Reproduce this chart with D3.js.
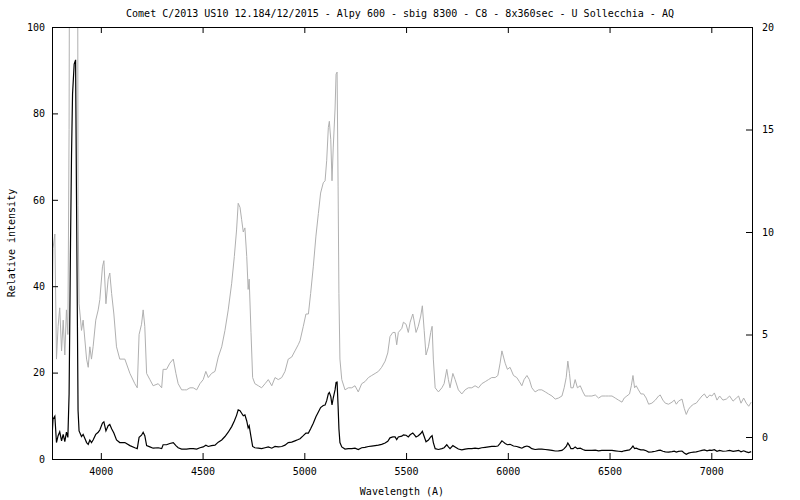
<!DOCTYPE html>
<html><head><meta charset="utf-8">
<script src="https://cdn.jsdelivr.net/npm/d3@7"></script>
<style>
body{margin:0;background:#fff;}
text{font-family:"DejaVu Sans Mono",monospace;font-size:10px;fill:#000;}
</style></head>
<body>
<svg id="chart" width="800" height="500"></svg>
<script>
const title = "Comet C/2013 US10 12.184/12/2015 - Alpy 600 - sbig 8300 - C8 - 8x360sec - U Sollecchia - AQ";
const xLabel = "Wavelength (A)";
const yLabel = "Relative intensity";
const xTicks = [4000, 4500, 5000, 5500, 6000, 6500, 7000];
const yTicks = [0, 20, 40, 60, 80, 100];
const y2Ticks = [0, 5, 10, 15, 20];

const wavelength = [3760,3765,3774,3782,3790,3798,3807,3815,3823,3831,3838,3844,3851,3856,3861,3869,3876,3877,3880,3885,3888,3893,3905,3913,3930,3938,3946,3954,3962,3975,3987,3995,4008,4015,4025,4036,4044,4053,4064,4077,4093,4118,4143,4167,4179,4188,4200,4208,4216,4225,4241,4257,4282,4299,4306,4323,4339,4356,4369,4380,4397,4410,4421,4438,4454,4471,4487,4503,4516,4528,4544,4561,4577,4594,4610,4626,4643,4656,4667,4675,4684,4692,4700,4708,4717,4724,4729,4738,4746,4757,4774,4790,4807,4823,4840,4856,4872,4889,4905,4921,4938,4954,4970,4979,4995,5008,5020,5031,5044,5057,5069,5080,5093,5102,5110,5118,5123,5130,5136,5142,5151,5156,5161,5166,5170,5175,5184,5200,5216,5233,5249,5265,5282,5298,5315,5331,5348,5364,5380,5397,5410,5421,5435,5446,5454,5462,5479,5487,5500,5511,5520,5533,5539,5549,5560,5572,5580,5589,5598,5610,5621,5628,5634,5643,5659,5676,5687,5700,5708,5716,5730,5741,5757,5774,5790,5806,5823,5839,5856,5872,5889,5905,5921,5938,5951,5962,5971,5979,5987,5998,6011,6028,6044,6057,6069,6080,6094,6106,6118,6134,6151,6167,6184,6200,6217,6233,6249,6266,6277,6287,6295,6303,6310,6321,6331,6342,6356,6369,6380,6397,6413,6430,6446,6462,6479,6495,6512,6528,6544,6561,6572,6585,6598,6607,6615,6623,6631,6642,6654,6667,6680,6692,6708,6725,6741,6749,6762,6774,6790,6807,6818,6828,6839,6856,6867,6877,6888,6900,6913,6926,6938,6954,6966,6979,6992,7003,7015,7028,7041,7057,7074,7090,7107,7123,7134,7146,7159,7172,7184,7196];
const intensity = [5.0,9.2,9.9,3.8,5.4,6.3,4.2,5.7,4.0,6.2,5.0,15,49.8,70.6,84.5,91.4,92.4,84.5,63,30.6,11.3,6.5,5.2,5.7,3.8,3.4,4.4,3.8,4.4,5.7,6.2,6.7,8.3,8.6,6.5,7.7,8.0,7.0,6.0,4.4,3.8,3.8,3.1,2.6,2.4,5.0,5.5,6.2,5.4,3.1,2.8,2.5,2.6,2.4,3.3,3.3,3.6,3.8,3.1,2.6,2.3,2.3,2.3,2.4,2.4,2.3,2.6,2.8,3.2,2.9,3.1,3.2,3.9,4.4,5.2,6.2,7.5,8.8,10.1,11.4,11.2,10.6,10.0,10.2,8.8,7.2,7.7,5.1,2.9,2.6,2.5,2.4,2.6,2.8,2.5,2.9,2.8,2.9,3.2,3.8,3.9,4.2,4.5,4.7,5.4,6.0,6.0,7.0,8.3,9.8,10.9,11.9,12.4,12.5,13.5,15.1,15.4,14.5,12.5,14.1,16.0,17.7,17.8,12.2,7.0,3.8,2.8,2.3,2.4,2.4,2.5,2.2,2.6,2.7,2.9,3.0,3.1,3.2,3.4,3.7,4.1,4.9,5.1,5.1,4.5,5.1,5.3,5.6,5.5,5.1,5.6,6.0,5.7,5.1,5.4,5.9,6.4,5.2,4.0,4.4,5.1,5.4,3.8,2.4,2.2,2.4,2.6,3.3,2.8,2.4,3.1,2.8,2.3,2.1,2.3,2.4,2.4,2.5,2.4,2.6,2.7,2.8,2.9,2.9,3.0,3.6,4.2,3.9,3.6,3.3,3.4,3.0,2.9,2.7,2.5,2.8,3.0,2.8,2.4,2.2,2.3,2.3,2.2,2.1,2.0,1.85,1.9,2.0,2.4,2.9,3.7,3.1,2.4,2.4,2.8,2.4,2.5,2.2,2.0,2.0,2.0,2.05,1.9,2.0,2.0,2.0,2.0,1.9,1.8,1.7,1.9,2.0,2.1,2.5,3.0,2.4,2.5,2.3,2.1,2.1,1.9,1.6,1.65,1.8,2.0,2.05,1.8,1.65,1.6,1.7,1.8,1.6,1.75,1.85,1.4,1.1,1.35,1.5,1.6,1.65,1.8,2.0,2.1,1.9,2.05,2.0,2.15,1.8,2.0,1.8,1.85,2.0,1.75,1.9,2.0,1.65,1.9,1.65,1.5,1.7];

const svg = d3.select("#chart");
const L = 52, R = 752, T = 27, B = 459;

const x = d3.scaleLinear().domain([3760, 7200]).range([L, R]);
const y = d3.scaleLinear().domain([0, 100]).range([B, T]);
const y2 = d3.scaleLinear().domain([-1.073, 20]).range([B, T]);

const data = wavelength.map((w, i) => ({w, v: intensity[i]}));

svg.append("defs").append("clipPath").attr("id", "clip")
  .append("rect").attr("x", L).attr("y", T).attr("width", R - L).attr("height", B - T);

const plot = svg.append("g").attr("clip-path", "url(#clip)");
plot.append("path").datum(data)
  .attr("fill", "none").attr("stroke", "#b0b0b0").attr("stroke-width", 1)
  .attr("d", d3.line().x(d => x(d.w)).y(d => y2(d.v)));
plot.append("path").datum(data)
  .attr("fill", "none").attr("stroke", "#000").attr("stroke-width", 1.2)
  .attr("d", d3.line().x(d => x(d.w)).y(d => y(d.v)));

// axes (gnuplot style: inward ticks)
const tk = 6;
const xb = svg.append("g").attr("transform", `translate(0,${B})`)
  .call(d3.axisBottom(x).tickValues(xTicks).tickSize(-tk).tickPadding(9).tickFormat(d3.format("d")));
const xt = svg.append("g").attr("transform", `translate(0,${T})`)
  .call(d3.axisTop(x).tickValues(xTicks).tickSize(-tk).tickFormat(""));
const yl = svg.append("g").attr("transform", `translate(${L},0)`)
  .call(d3.axisLeft(y).tickValues(yTicks).tickSize(-tk).tickPadding(7).tickFormat(d3.format("d")));
const yr = svg.append("g").attr("transform", `translate(${R},0)`)
  .call(d3.axisRight(y2).tickValues(y2Ticks).tickSize(-tk).tickPadding(10).tickFormat(d3.format("d")));
[xb, xt, yl, yr].forEach(g => {
  g.select(".domain").remove();
  g.selectAll(".tick line").attr("stroke", "#000");
  g.selectAll("text").style("font-family", "'DejaVu Sans Mono', monospace").style("font-size", "10px").attr("fill", "#000");
});

svg.append("rect").attr("x", L + 0.5).attr("y", T + 0.5)
  .attr("width", R - L).attr("height", B - T)
  .attr("fill", "none").attr("stroke", "#000").attr("stroke-width", 1);

svg.append("text").attr("x", 400).attr("y", 17).attr("text-anchor", "middle").text(title);
svg.append("text").attr("x", 402).attr("y", 495).attr("text-anchor", "middle").text(xLabel);
svg.append("text").attr("transform", "translate(15,243) rotate(-90)").attr("text-anchor", "middle").text(yLabel);
</script>
</body></html>
